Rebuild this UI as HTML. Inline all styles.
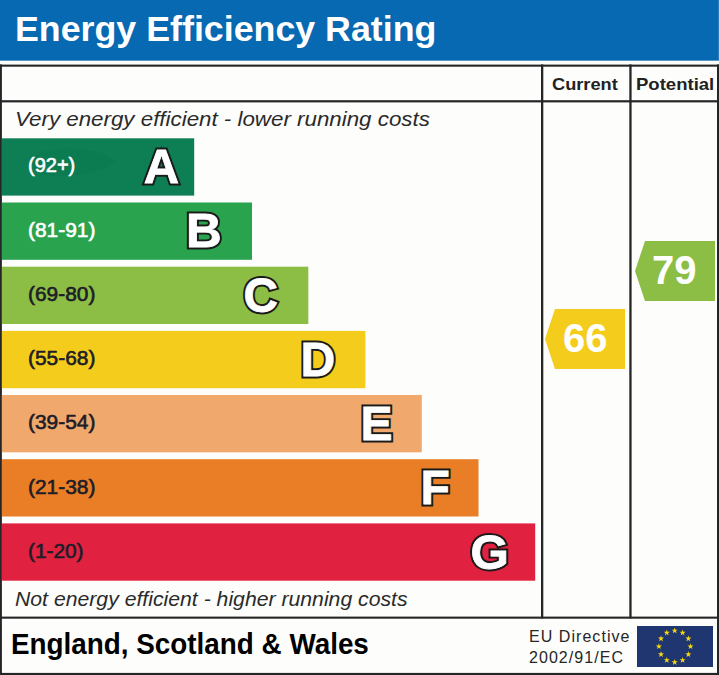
<!DOCTYPE html>
<html><head><meta charset="utf-8">
<style>
html,body{margin:0;padding:0;background:#fdfdfb;}
body{width:719px;height:675px;position:relative;overflow:hidden;font-family:"Liberation Sans",sans-serif;}
.a{position:absolute;white-space:nowrap;}
#hdr{left:0;top:0;width:719px;height:60px;background:#0769b2;border-bottom:1px solid #5f97cb;}
#title{left:15px;top:7px;font-size:35px;transform-origin:0 0;transform:scaleX(1.022);font-weight:bold;color:#fff;line-height:44px;}
.lbl{left:28px;font-size:20px;line-height:24px;transform-origin:0 0;-webkit-text-stroke:0.6px currentColor;}
.w{color:#fff;}
.k{color:#1d1d28;}
.it{font-style:italic;font-size:21px;color:#2a2a2a;line-height:24px;transform-origin:0 0;}
.hd{font-size:17px;font-weight:bold;color:#222;line-height:20px;transform-origin:0 0;}
.num{font-size:40px;font-weight:bold;color:#fff;line-height:44px;}
</style></head><body>
<div id="hdr" class="a"></div>
<div class="a" style="left:718px;top:0;width:1px;height:60px;background:#2f7dbd"></div>
<div id="title" class="a">Energy Efficiency Rating</div>

<svg class="a" style="left:0;top:0" width="719" height="675"><g fill="#252527">
<rect x="0" y="64.6" width="719" height="2.1"/>
<rect x="0" y="100.2" width="719" height="2.2"/>
<rect x="0" y="616.6" width="719" height="2.1"/>
<rect x="0" y="672.9" width="719" height="2.1"/>
<rect x="0" y="64.4" width="1.9" height="611"/>
<rect x="717" y="64.4" width="2" height="611"/>
<rect x="541" y="64.4" width="2.3" height="554"/>
<rect x="629.3" y="64.4" width="2.3" height="554"/>
</g></svg>

<div id="cur" class="a hd" style="left:552px;top:75px;transform:scaleX(1.07)">Current</div>
<div id="pot" class="a hd" style="left:636px;top:75px;transform:scaleX(1.09)">Potential</div>

<div id="very" class="a it" style="left:15px;top:107px;transform:scaleX(1.063)">Very energy efficient - lower running costs</div>
<div id="not" class="a it" style="left:15px;top:587px;transform:scaleX(1.01)">Not energy efficient - higher running costs</div>

<svg class="a" style="left:0;top:0" width="719" height="675">
<rect x="1.9" y="138.3" width="192.3" height="57.3" fill="#0e7e55"/>
<path d="M40,152 C70,146 100,148 116,162 C100,174 70,178 40,174 C30,168 30,157 40,152 Z" fill="#0a7850" opacity="0.55"/>
<rect x="1.9" y="202.5" width="250.1" height="57.3" fill="#2aa34f"/>
<rect x="1.9" y="266.7" width="306.4" height="57.3" fill="#8cbd45"/>
<rect x="1.9" y="330.9" width="363.5" height="57.3" fill="#f4cc1b"/>
<rect x="1.9" y="395.0" width="419.9" height="57.3" fill="#f0a86c"/>
<rect x="1.9" y="459.2" width="476.6" height="57.3" fill="#e97e26"/>
<rect x="1.9" y="523.4" width="533.3" height="57.3" fill="#e0213f"/>
</svg>

<div class="a lbl w" style="top:153px;transform:scaleX(1.0)">(92+)</div>
<div class="a lbl w" style="top:218px;transform:scaleX(1.045)">(81-91)</div>
<div class="a lbl k" style="top:282px;transform:scaleX(1.045)">(69-80)</div>
<div class="a lbl k" style="top:346px;transform:scaleX(1.045)">(55-68)</div>
<div class="a lbl k" style="top:410px;transform:scaleX(1.045)">(39-54)</div>
<div class="a lbl k" style="top:475px;transform:scaleX(1.045)">(21-38)</div>
<div class="a lbl k" style="top:539px;transform:scaleX(1.04)">(1-20)</div>

<svg class="a" style="left:0;top:0" width="719" height="675" font-family="Liberation Sans" font-weight="bold" font-size="48.0">
<g transform="translate(143.84,183.00) scale(1.021,1)"><text fill="#1a1a1a" stroke="#1a1a1a" stroke-width="4.8" stroke-linejoin="miter">A</text><text fill="#fff" stroke="#fff" stroke-width="0.8" stroke-linejoin="miter">A</text></g>
<g transform="translate(185.97,246.50) scale(1.030,1)"><text fill="#1a1a1a" stroke="#1a1a1a" stroke-width="4.8" stroke-linejoin="miter">B</text><text fill="#fff" stroke="#fff" stroke-width="0.8" stroke-linejoin="miter">B</text></g>
<g transform="translate(243.60,311.60) scale(0.994,1)"><text fill="#1a1a1a" stroke="#1a1a1a" stroke-width="4.8" stroke-linejoin="miter">C</text><text fill="#fff" stroke="#fff" stroke-width="0.8" stroke-linejoin="miter">C</text></g>
<g transform="translate(300.60,376.10) scale(1.000,1)"><text fill="#1a1a1a" stroke="#1a1a1a" stroke-width="4.8" stroke-linejoin="miter">D</text><text fill="#fff" stroke="#fff" stroke-width="0.8" stroke-linejoin="miter">D</text></g>
<g transform="translate(360.60,439.90) scale(1.000,1)"><text fill="#1a1a1a" stroke="#1a1a1a" stroke-width="4.8" stroke-linejoin="miter">E</text><text fill="#fff" stroke="#fff" stroke-width="0.8" stroke-linejoin="miter">E</text></g>
<g transform="translate(420.60,504.30) scale(1.000,1)"><text fill="#1a1a1a" stroke="#1a1a1a" stroke-width="4.8" stroke-linejoin="miter">F</text><text fill="#fff" stroke="#fff" stroke-width="0.8" stroke-linejoin="miter">F</text></g>
<g transform="translate(470.60,568.70) scale(1.027,1)"><text fill="#1a1a1a" stroke="#1a1a1a" stroke-width="4.8" stroke-linejoin="miter">G</text><text fill="#fff" stroke="#fff" stroke-width="0.8" stroke-linejoin="miter">G</text></g>
</svg>
<svg class="a" style="left:0;top:0" width="719" height="675">
<polygon points="545,339 555,309 625,309 625,369 555,369" fill="#f4cc1b"/>
<polygon points="635,271 645,241 715,241 715,301 645,301" fill="#8cbd45"/>
</svg>
<div class="a num" style="left:563px;top:316px">66</div>
<div class="a num" style="left:652px;top:248px">79</div>

<div id="eng" class="a" style="left:11px;top:627px;font-size:29px;font-weight:bold;color:#000;line-height:34px;transform-origin:0 0;transform:scaleX(0.96)">England, Scotland &amp; Wales</div>
<div id="eu" class="a" style="left:529px;top:627px;font-size:16px;color:#262626;line-height:20px;letter-spacing:1.05px">EU Directive</div>
<div id="eu2" class="a" style="left:529px;top:648px;font-size:16px;color:#262626;line-height:20px;letter-spacing:1.05px">2002/91/EC</div>
<svg class="a" style="left:637px;top:626px" width="76" height="41" viewBox="0 0 76 41">
<rect width="76" height="41" fill="#1f3670"/>
<g fill="#f5d80f"><polygon points="53.50,17.30 54.25,19.46 56.54,19.51 54.72,20.90 55.38,23.09 53.50,21.78 51.62,23.09 52.28,20.90 50.46,19.51 52.75,19.46"/><polygon points="51.38,25.20 52.14,27.36 54.43,27.41 52.60,28.80 53.26,30.99 51.38,29.68 49.50,30.99 50.17,28.80 48.34,27.41 50.63,27.36"/><polygon points="45.60,30.98 46.35,33.15 48.64,33.19 46.82,34.58 47.48,36.77 45.60,35.46 43.72,36.77 44.38,34.58 42.56,33.19 44.85,33.15"/><polygon points="37.70,33.10 38.45,35.26 40.74,35.31 38.92,36.70 39.58,38.89 37.70,37.58 35.82,38.89 36.48,36.70 34.66,35.31 36.95,35.26"/><polygon points="29.80,30.98 30.55,33.15 32.84,33.19 31.02,34.58 31.68,36.77 29.80,35.46 27.92,36.77 28.58,34.58 26.76,33.19 29.05,33.15"/><polygon points="24.02,25.20 24.77,27.36 27.06,27.41 25.23,28.80 25.90,30.99 24.02,29.68 22.14,30.99 22.80,28.80 20.97,27.41 23.26,27.36"/><polygon points="21.90,17.30 22.65,19.46 24.94,19.51 23.12,20.90 23.78,23.09 21.90,21.78 20.02,23.09 20.68,20.90 18.86,19.51 21.15,19.46"/><polygon points="24.02,9.40 24.77,11.56 27.06,11.61 25.23,13.00 25.90,15.19 24.02,13.88 22.14,15.19 22.80,13.00 20.97,11.61 23.26,11.56"/><polygon points="29.80,3.62 30.55,5.78 32.84,5.83 31.02,7.21 31.68,9.41 29.80,8.10 27.92,9.41 28.58,7.21 26.76,5.83 29.05,5.78"/><polygon points="37.70,1.50 38.45,3.66 40.74,3.71 38.92,5.10 39.58,7.29 37.70,5.98 35.82,7.29 36.48,5.10 34.66,3.71 36.95,3.66"/><polygon points="45.60,3.62 46.35,5.78 48.64,5.83 46.82,7.21 47.48,9.41 45.60,8.10 43.72,9.41 44.38,7.21 42.56,5.83 44.85,5.78"/><polygon points="51.38,9.40 52.14,11.56 54.43,11.61 52.60,13.00 53.26,15.19 51.38,13.88 49.50,15.19 50.17,13.00 48.34,11.61 50.63,11.56"/></g>
</svg>
</body></html>
